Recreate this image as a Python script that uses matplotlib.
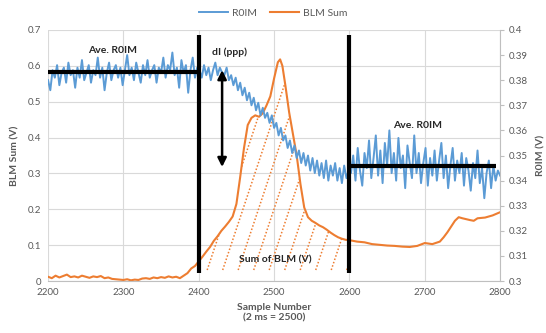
import numpy as np
import matplotlib
matplotlib.use("Agg")
import matplotlib.pyplot as plt
from matplotlib.transforms import blended_transform_factory

plt.rcParams["font.family"] = ["Lato", "DejaVu Sans"]

BLUE = "#5B9BD5"
ORANGE = "#ED7D31"
GRAY = "#595959"
GRID = "#D9D9D9"

# R0IM (right axis), every 3 samples from 2200 to 2800
r0im_x = np.arange(2200, 2801, 3)
r0im = [
    # 2200 - 2398
    0.380, 0.376, 0.384, 0.381, 0.386, 0.378, 0.383, 0.385, 0.379, 0.387,
    0.382, 0.384, 0.377, 0.385, 0.381, 0.388, 0.380, 0.383, 0.386, 0.379,
    0.384, 0.382, 0.389, 0.381, 0.385, 0.376, 0.383, 0.387, 0.380, 0.384,
    0.386, 0.381, 0.385, 0.378, 0.384, 0.390, 0.382, 0.385, 0.380, 0.387,
    0.383, 0.379, 0.386, 0.382, 0.388, 0.381, 0.384, 0.386, 0.379, 0.385,
    0.383, 0.389, 0.381, 0.386, 0.384, 0.391, 0.382, 0.385, 0.377, 0.388,
    0.383, 0.386, 0.375, 0.384, 0.389, 0.381, 0.385,
    # 2401 - 2431
    0.384, 0.381, 0.386, 0.382, 0.385, 0.380, 0.384, 0.387, 0.382, 0.385, 0.383,
    # 2434 - 2599
    0.382, 0.385, 0.380, 0.382, 0.378, 0.381, 0.376, 0.379, 0.374, 0.377,
    0.372, 0.375, 0.370, 0.373, 0.368, 0.371, 0.366, 0.369, 0.365, 0.367,
    0.363, 0.366, 0.361, 0.363, 0.358, 0.361, 0.356, 0.358, 0.353, 0.356,
    0.351, 0.354, 0.349, 0.352, 0.347, 0.351, 0.346, 0.350, 0.344, 0.349,
    0.343, 0.348, 0.342, 0.347, 0.341, 0.348, 0.340, 0.346, 0.342, 0.347,
    0.340, 0.345, 0.339, 0.346, 0.341, 0.344,
    # 2602 - 2800
    0.343, 0.350, 0.340, 0.353, 0.344, 0.338, 0.351, 0.345, 0.356, 0.341,
    0.349, 0.358, 0.342, 0.352, 0.339, 0.355, 0.346, 0.360, 0.343, 0.351,
    0.340, 0.357, 0.345, 0.350, 0.337, 0.354, 0.347, 0.341, 0.358, 0.343,
    0.351, 0.339, 0.347, 0.353, 0.338, 0.349, 0.342, 0.352, 0.340, 0.348,
    0.355, 0.341, 0.350, 0.337, 0.346, 0.353, 0.340, 0.348, 0.343, 0.351,
    0.338, 0.349, 0.344, 0.336, 0.347, 0.341, 0.352, 0.339, 0.345, 0.333,
    0.343, 0.348, 0.337, 0.346, 0.340, 0.344, 0.342,
]

# BLM Sum (left axis)
blm_x = [
    2200, 2205, 2210, 2215, 2220, 2225, 2230, 2235, 2240, 2245, 2250, 2255,
    2260, 2265, 2270, 2275, 2280, 2285, 2290, 2295, 2300, 2305, 2310, 2315,
    2320, 2325, 2330, 2335, 2340, 2345, 2350, 2355, 2360, 2365, 2370, 2375,
    2380, 2385, 2390, 2395, 2400, 2405, 2410, 2415, 2420, 2425, 2430, 2435,
    2440, 2445, 2450, 2455, 2460, 2465, 2470, 2475, 2480, 2485, 2490, 2495,
    2500, 2505, 2508, 2511, 2515, 2520, 2525, 2530, 2535, 2540, 2545, 2550,
    2555, 2560, 2565, 2570, 2575, 2580, 2585, 2590, 2595, 2600, 2610, 2620,
    2630, 2640, 2650, 2660, 2670, 2680, 2690, 2700, 2710, 2720, 2725, 2730,
    2735, 2740, 2745, 2750, 2760, 2765, 2770, 2780, 2790, 2800,
]
blm = [
    0.012, 0.008, 0.015, 0.010, 0.014, 0.018, 0.011, 0.013, 0.010, 0.015, 0.012, 0.009,
    0.013, 0.011, 0.014, 0.008, 0.010, 0.006, 0.005, 0.004, 0.003, 0.005, 0.002, 0.004,
    0.003, 0.007, 0.008, 0.006, 0.010, 0.008, 0.011, 0.009, 0.013, 0.010, 0.012, 0.008,
    0.015, 0.022, 0.035, 0.042, 0.055, 0.068, 0.082, 0.095, 0.112, 0.125, 0.140, 0.152,
    0.165, 0.180, 0.215, 0.290, 0.370, 0.435, 0.455, 0.462, 0.458, 0.468, 0.490, 0.515,
    0.565, 0.610, 0.618, 0.600, 0.545, 0.470, 0.410, 0.350, 0.270, 0.205, 0.178, 0.168,
    0.162, 0.155, 0.150, 0.143, 0.135, 0.128, 0.122, 0.118, 0.115, 0.114, 0.110, 0.108,
    0.103, 0.101, 0.099, 0.098, 0.096, 0.095, 0.098, 0.106, 0.103, 0.110, 0.122, 0.136,
    0.152, 0.168, 0.178, 0.175, 0.170, 0.168, 0.175, 0.177, 0.183, 0.192,
]

fig = plt.figure(figsize=(5.46, 3.33), dpi=100)
ax1 = fig.add_axes([0.088, 0.156, 0.828, 0.754])
ax2 = ax1.twinx()

ax1.plot(blm_x, blm, color=ORANGE, lw=1.5, label="BLM Sum")
ax2.plot(r0im_x, r0im, color=BLUE, lw=1.4, label="R0IM")

# hatched area under BLM between 2400 and 2600
bx = np.array(blm_x)
sel = (bx >= 2400) & (bx <= 2600)
poly = ax1.fill_between(bx[sel], np.array(blm)[sel], 0.02, facecolor="none", edgecolor="none")
clip = poly.get_paths()[0]
slope = 5.4
for x0 in np.arange(0.352 - 0.0343 * 12, 1.0, 0.0343):
    ln, = ax1.plot([x0, x0 + 1 / slope], [0.044, 1.044], transform=ax1.transAxes,
                   color=ORANGE, lw=1.1, ls=(0, (1, 1.3)))
    ln.set_clip_path(clip, ax1.transData)

ax1.set_xlim(2200, 2800)
ax1.set_ylim(0, 0.7)
ax2.set_ylim(0.3, 0.4)
ax1.set_xticks(range(2200, 2801, 100))
ax1.set_yticks(np.arange(0, 0.71, 0.1))
ax1.set_yticklabels(["0", "0.1", "0.2", "0.3", "0.4", "0.5", "0.6", "0.7"])
rt = np.round(np.arange(0.3, 0.4001, 0.01), 2)
ax2.set_yticks(rt)
ax2.set_yticklabels([f"{v:g}" for v in rt])

ax1.grid(True, color=GRID, lw=0.8)
ax1.set_axisbelow(True)
for s in ["top", "left"]:
    ax1.spines[s].set_visible(False)
    ax2.spines[s].set_visible(False)
ax1.spines["bottom"].set_color("#BFBFBF")
ax1.spines["right"].set_visible(False)
ax2.spines["bottom"].set_visible(False)
ax2.spines["right"].set_color("#BFBFBF")
ax1.tick_params(axis="both", length=0, labelsize=7, labelcolor=GRAY, pad=5)
ax2.tick_params(axis="y", length=3, color="#BFBFBF", labelsize=7, labelcolor=GRAY, pad=3)

ax1.set_xlabel("Sample Number\n(2 ms = 2500)", fontsize=7.5, fontweight="bold", color=GRAY, labelpad=4)
ax1.set_ylabel("BLM Sum (V)", fontsize=7.5, fontweight="bold", color=GRAY, labelpad=6)
ax2.set_ylabel("R0IM (V)", fontsize=7.5, fontweight="bold", color=GRAY, labelpad=6)

# annotations (on top axes so they sit over the blue trace)
r = np.array(r0im)
rx = np.array(r0im_x)
avg_before = r[rx < 2400].mean()
avg_after = r[rx > 2600].mean()
ax2.plot([2200, 2400], [avg_before, avg_before], color="black", lw=3, solid_capstyle="butt")
ax2.plot([2600, 2795], [avg_after, avg_after], color="black", lw=3, solid_capstyle="butt")
trans = blended_transform_factory(ax2.transData, ax2.transAxes)
for xv in (2400, 2600):
    ax2.plot([xv, xv], [0.031, 0.979], transform=trans, color="black", lw=3, solid_capstyle="butt")

ax2.annotate("", xy=(2431, 0.318), xytext=(2431, 0.588), xycoords=ax1.transData,
             textcoords=ax1.transData,
             arrowprops=dict(arrowstyle="<|-|>", color="black", lw=1.8, mutation_scale=13,
                             shrinkA=0, shrinkB=0))

ax2.text(2286, 0.643, "Ave. R0IM", transform=ax1.transData, ha="center", va="center",
         fontsize=7.5, fontweight="bold", color="#262626")
ax2.text(2418, 0.638, "dI (ppp)", transform=ax1.transData, ha="left", va="center",
         fontsize=7.5, fontweight="bold", color="#262626")
ax2.text(2690, 0.435, "Ave. R0IM", transform=ax1.transData, ha="center", va="center",
         fontsize=7.5, fontweight="bold", color="#262626")
ax2.text(2502, 0.058, "Sum of BLM (V)", transform=ax1.transData, ha="center", va="center",
         fontsize=7.5, fontweight="bold", color="#262626")

h1, l1 = ax1.get_legend_handles_labels()
h2, l2 = ax2.get_legend_handles_labels()
leg = fig.legend(h2 + h1, l2 + l1, loc="center", bbox_to_anchor=(0.5, 0.96), ncol=2,
                 frameon=False, fontsize=7.5, handlelength=2.8, columnspacing=1.2,
                 handletextpad=0.4)
for t in leg.get_texts():
    t.set_color(GRAY)

fig.savefig("out.png", dpi=100)
